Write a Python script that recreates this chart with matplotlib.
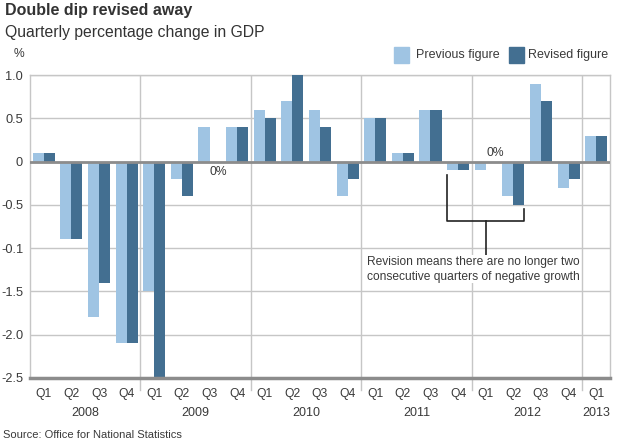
import matplotlib
matplotlib.use("Agg")
import matplotlib.pyplot as plt
import numpy as np
from matplotlib.patches import Rectangle

plt.rcParams['font.family'] = ['Liberation Sans', 'DejaVu Sans']

quarters = ["Q1", "Q2", "Q3", "Q4"] * 5 + ["Q1"]
years = ["2008", "2009", "2010", "2011", "2012", "2013"]
previous = [0.1, -0.9, -1.8, -2.1, -1.5, -0.2, 0.4, 0.4,
            0.6, 0.7, 0.6, -0.4, 0.5, 0.1, 0.6, -0.1,
            -0.1, -0.4, 0.9, -0.3, 0.3]
revised = [0.1, -0.9, -1.4, -2.1, -2.5, -0.4, 0.0, 0.4,
           0.5, 1.0, 0.4, -0.2, 0.5, 0.1, 0.6, -0.1,
           0.0, -0.5, 0.7, -0.2, 0.3]
ytick_vals = [1.0, 0.5, 0, -0.5, -1.0, -1.5, -2.0, -2.5]
ytick_labels = ["1.0", "0.5", "0", "-0.5", "-0.1", "-1.5", "-2.0", "-2.5"]

c_prev = "#9fc4e3"
c_rev = "#436f91"
txt = "#3a3a3a"
grid = "#c6c6c6"

W, H = 624, 443
fig = plt.figure(figsize=(W / 100, H / 100), dpi=100)
ax = fig.add_axes([30 / W, (H - 378) / H, 580 / W, 303 / H])

x = np.arange(len(previous))
bw = 0.4
ax.bar(x - bw / 2, previous, width=bw, color=c_prev, zorder=3, linewidth=0)
ax.bar(x + bw / 2, revised, width=bw, color=c_rev, zorder=3, linewidth=0)

ax.set_xlim(-0.5, len(previous) - 0.5)
ax.set_ylim(-2.5, 1.0)

for v in ytick_vals:
    ax.axhline(v, color=grid, lw=1.0, zorder=1)
ax.axhline(0, color="#8c8c8c", lw=2.0, zorder=4)
ax.axhline(-2.5, color="#8c8c8c", lw=2.5, zorder=4, clip_on=False)

# year boundaries
for b in [3.5, 7.5, 11.5, 15.5, 19.5]:
    ax.axvline(b, color=grid, lw=1.0, zorder=1)
    ax.plot([b, b], [-2.5, -2.64], color=grid, lw=1.0, clip_on=False)

for s in ["top", "right", "left"]:
    ax.spines[s].set_color(grid)
    ax.spines[s].set_linewidth(1.0)
ax.spines["bottom"].set_visible(False)

ax.set_yticks(ytick_vals)
ax.set_yticklabels(ytick_labels, fontsize=9.2, color=txt)
ax.tick_params(axis="y", length=0, pad=5)
ax.set_xticks(x)
ax.set_xticklabels(quarters, fontsize=8.7, color=txt)
ax.tick_params(axis="x", length=0, pad=7)

year_centers = [1.5, 5.5, 9.5, 13.5, 17.5, 20]
for yc, yl in zip(year_centers, years):
    ax.text(yc, -2.9, yl, ha="center", va="center", fontsize=9, color=txt)

# 0% labels
ax.text(6.33, -0.12, "0%", ha="center", va="center", fontsize=8.7, color=txt, zorder=5)
ax.text(16.34, 0.1, "0%", ha="center", va="center", fontsize=8.7, color=txt, zorder=5)

# bracket
ax.plot([14.6, 14.6, 17.4, 17.4], [-0.155, -0.69, -0.69, -0.545], color="#222222", lw=1.2, zorder=5)
ax.plot([16.0, 16.0], [-0.69, -1.08], color="#222222", lw=1.2, zorder=5)
ax.text(15.54, -1.245, "Revision means there are no longer two\nconsecutive quarters of negative growth",
        ha="center", va="center", fontsize=8.65, color=txt, linespacing=1.3, zorder=5,
        bbox=dict(facecolor="white", edgecolor="none", pad=0.5))

# titles
fig.text(5 / W, 1 - 11 / H, "Double dip revised away", fontsize=11.5, fontweight="bold",
         color="#333333", ha="left", va="center")
fig.text(5 / W, 1 - 33 / H, "Quarterly percentage change in GDP", fontsize=11.3,
         color="#333333", ha="left", va="center")
fig.text(14 / W, 1 - 54 / H, "%", fontsize=8.7, color=txt, ha="left", va="center")

# legend
fig.patches.append(Rectangle((393.5 / W, 1 - 62.7 / H), 15.5 / W, 15.7 / H,
                             transform=fig.transFigure, color=c_prev))
fig.text(416.5 / W, 1 - 55 / H, "Previous figure", fontsize=9, color=txt, ha="left", va="center")
fig.patches.append(Rectangle((508.5 / W, 1 - 62.7 / H), 15.5 / W, 15.7 / H,
                             transform=fig.transFigure, color=c_rev))
fig.text(528.5 / W, 1 - 55 / H, "Revised figure", fontsize=9, color=txt, ha="left", va="center")

fig.text(3 / W, 1 - 435.5 / H, "Source: Office for National Statistics", fontsize=8.0,
         color=txt, ha="left", va="center")

fig.savefig("out.png", dpi=100)
